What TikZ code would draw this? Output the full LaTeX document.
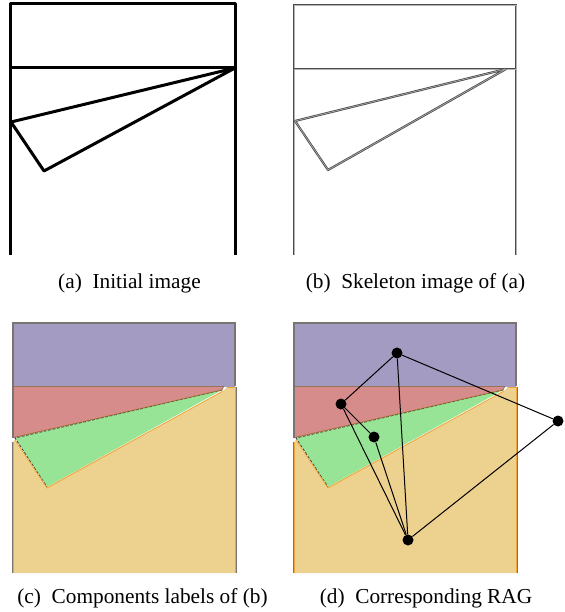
\documentclass[tikz,border=0pt]{standalone}
\usepackage{fontspec}
\setmainfont{Liberation Serif}
\definecolor{cpurple}{HTML}{A39BC1}
\definecolor{cred}{HTML}{D78C8C}
\definecolor{cgreen}{HTML}{98E497}
\definecolor{cyellow}{HTML}{EDD18F}
\definecolor{corange}{HTML}{EFA53A}
\definecolor{cborder}{HTML}{7A7470}
\begin{document}
\begin{tikzpicture}[x=1pt,y=-1pt,
  thickline/.style={line width=3pt, line join=bevel},
  skel/.style={draw=black!70, line width=0.8pt, double=black!30, double distance=0.6pt},
  caption/.style={anchor=base, font=\fontsize{21.3}{25}\selectfont},
  ragnode/.style={circle, fill=black, inner sep=0pt, minimum size=11pt},
  ragedge/.style={line width=1pt, black}]
\useasboundingbox (0,0) rectangle (564,612);

% ---------- (a) Initial image ----------
\draw[thickline] (10,255) -- (10,4) -- (235,4) -- (235,255);
\draw[thickline] (10,68) -- (235,68);
\draw[thickline] (235,68) -- (11,122) -- (44,171) -- cycle;
\node[caption] (capa) at (129.5,288) {(a)\enspace Initial image};

% ---------- (b) Skeleton image ----------
\draw[skel] (294,255) -- (294,5) -- (516,5) -- (516,255);
\draw[skel] (294,69) -- (516,69);
\draw[skel, line join=bevel] (506,69) -- (295,121) -- (328,170) -- cycle;
\node[caption] (capb) at (415.5,288) {(b)\enspace Skeleton image of (a)};

% ---------- (c) and (d) component labels ----------
\foreach \dx in {0,281} {
  \begin{scope}[xshift=\dx]
    % purple
    \fill[cpurple] (13,323) rectangle (235,387);
    % red
    \fill[cred] (13,386) -- (224,386) -- (222,390) -- (15,438) -- (13,438) -- cycle;
    % green
    \fill[cgreen] (222,390) -- (15,438) -- (47,487) -- cycle;
    % yellow
    \fill[cyellow] (13,442) -- (15,440) -- (47,487) -- (223,391) -- (227,387) -- (235,387) -- (235,573) -- (13,573) -- cycle;
    % borders
    \draw[cborder, line width=1.2pt] (13,386) -- (13,323) -- (235,323) -- (235,386);
    \draw[cborder!80!orange, line width=0.9pt] (13,386) -- (224,386);
    \draw[cborder, line width=1.2pt] (13,386) -- (13,438);
    \draw[corange, line width=1pt] (13,442) -- (13,573);
    \draw[cborder, line width=0.8pt] (12.2,442) -- (12.2,573);
    \draw[corange, line width=1pt] (235,387) -- (235,573);
    \draw[cborder, line width=0.6pt] (235.8,387) -- (235.8,573);
    \draw[corange, line width=1pt] (227,387) -- (235,387);
    \draw[cborder, line width=0.6pt] (224,386) -- (222,390);
    \draw[black!75, line width=0.8pt, dash pattern=on 3pt off 1.5pt] (222,390) -- (15,438) -- (47,487);
    \draw[corange, line width=0.8pt] (15,440) -- (47,488) -- (223,391);
    \draw[corange!70!black, line width=0.6pt] (222,390) -- (15,437);
  \end{scope}
}
\node[caption] (capc) at (142.5,603) {(c)\enspace Components labels of (b)};

% ---------- (d) RAG ----------
\node[ragnode] (n1) at (397,353) {};
\node[ragnode] (n2) at (341,404) {};
\node[ragnode] (n3) at (374,437) {};
\node[ragnode] (n4) at (558,421) {};
\node[ragnode] (n5) at (408,540) {};
\draw[ragedge] (n1) -- (n2);
\draw[ragedge] (n1) -- (n5);
\draw[ragedge] (n1) -- (n4);
\draw[ragedge] (n2) -- (n3);
\draw[ragedge] (n2) -- (n5);
\draw[ragedge] (n3) -- (n5);
\draw[ragedge] (n4) -- (n5);
\node[caption] (capd) at (426,603) {(d)\enspace Corresponding RAG};
\end{tikzpicture}
\end{document}
